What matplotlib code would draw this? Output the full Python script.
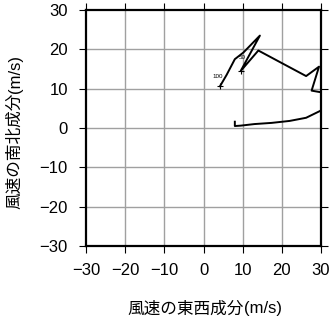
import matplotlib
matplotlib.use('Agg')
import matplotlib.pyplot as plt

# hodograph: wind components (m/s), from lowest level upward
u_wind = [8.0, 8.0, 9.5, 13.0, 17.4, 22.0, 26.2, 29.9, 31.0, 29.9, 27.6, 29.5,
          26.2, 20.0, 14.0, 9.5, 14.4, 10.2, 8.0, 5.9, 4.2]
v_wind = [1.6, 0.5, 0.6, 1.0, 1.3, 1.8, 2.6, 4.4, 7.0, 9.1, 9.5, 15.6,
          13.2, 16.5, 19.7, 14.5, 23.5, 19.2, 17.5, 13.5, 10.6]
label_idx = [15, 20]
label_txt = ['50', '100']
label_pos = [(10.0, 18.0), (3.6, 13.2)]
ticks = [-30, -20, -10, 0, 10, 20, 30]

plt.rcParams['font.family'] = ['Liberation Sans', 'Noto Sans CJK JP', 'DejaVu Sans']

fig = plt.figure(figsize=(3.32, 3.19), dpi=100)
ax = fig.add_axes([86 / 332, 73 / 319, 235 / 332, 236 / 319])

for t in ticks[1:-1]:
    ax.axvline(t, color='#a0a0a0', lw=1.0, zorder=1)
    ax.axhline(t, color='#a0a0a0', lw=1.0, zorder=1)

ax.plot(u_wind, v_wind, color='black', lw=1.4, zorder=3)
for i, txt, pos in zip(label_idx, label_txt, label_pos):
    ax.plot(u_wind[i], v_wind[i], marker='+', ms=4, mew=0.8, color='black', zorder=3)
    ax.text(pos[0], pos[1], txt, fontsize=4.5, ha='center', va='center', zorder=4)

ax.set_xlim(-30, 30)
ax.set_ylim(-30, 30)
ax.set_xticks(ticks)
ax.set_yticks(ticks)
ax.set_xticklabels([str(t) if t >= 0 else '\u2212' + str(-t) for t in ticks])
ax.set_yticklabels([str(t) if t >= 0 else '\u2212' + str(-t) for t in ticks])
ax.tick_params(direction='out', length=5, width=0.8, labelsize=12,
               top=True, right=True)
ax.tick_params(axis='x', pad=7)
ax.tick_params(axis='y', pad=8)
for s in ax.spines.values():
    s.set_linewidth(1.6)

fig.text(244 / 332, 1 - 309 / 319, '風速の東西成分', fontsize=12,
         family=['Noto Sans CJK JP'], ha='right', va='center')
fig.text(244 / 332, 1 - 309 / 319, '(m/s)', fontsize=12,
         family=['Liberation Sans'], ha='left', va='center')
fig.text(15 / 332, 1 - 93 / 319, '風速の南北成分', fontsize=12,
         family=['Noto Sans CJK JP'], ha='center', va='top', rotation=90)
fig.text(15 / 332, 1 - 93 / 319, '(m/s)', fontsize=12,
         family=['Liberation Sans'], ha='center', va='bottom', rotation=90)

fig.savefig('out.png', dpi=100)
